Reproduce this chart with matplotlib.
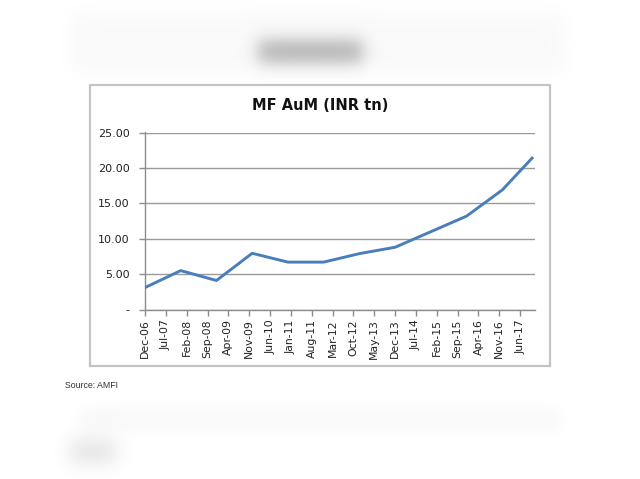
import matplotlib
matplotlib.use("Agg")
import matplotlib.pyplot as plt
import numpy as np
import pandas as pd
from matplotlib.patches import Rectangle

# MF AuM data (INR tn)
dates = ["Dec-06", "Dec-07", "Dec-08", "Dec-09", "Dec-10", "Dec-11",
         "Dec-12", "Dec-13", "Dec-14", "Dec-15", "Dec-16", "Oct-17"]
aum = [3.1, 5.5, 4.1, 7.95, 6.7, 6.7, 7.9, 8.8, 11.0, 13.2, 16.9, 21.4]

tick_labels = ["Dec-06", "Jul-07", "Feb-08", "Sep-08", "Apr-09", "Nov-09",
               "Jun-10", "Jan-11", "Aug-11", "Mar-12", "Oct-12", "May-13",
               "Dec-13", "Jul-14", "Feb-15", "Sep-15", "Apr-16", "Nov-16",
               "Jun-17"]
y_ticks = [0, 5, 10, 15, 20, 25]
y_tick_labels = ["-", "5.00", "10.00", "15.00", "20.00", "25.00"]


def month_index(labels):
    d = pd.to_datetime(labels, format="%b-%y")
    return np.array((d.year - 2006) * 12 + d.month - 12)


x = month_index(dates)
xt = month_index(tick_labels)

fig = plt.figure(figsize=(6.4, 4.79), dpi=100)

# blurred header / footer blocks behind the chart
H, W = 479, 640
X, Y = np.meshgrid(np.arange(W), np.arange(H))


def soft_box(x0, x1, y0, y1, s):
    sig = lambda v: 1 / (1 + np.exp(-v / s))
    return sig(X - x0) * sig(x1 - X) * sig(Y - y0) * sig(y1 - Y)


img = np.ones((H, W))
img -= 0.025 * soft_box(70, 565, 12, 72, 6)
img -= 0.28 * soft_box(258, 362, 40, 62, 5)
img -= 0.035 * soft_box(80, 560, 410, 428, 5)
img -= 0.12 * soft_box(70, 115, 440, 462, 6)
fig.figimage(img, cmap="gray", vmin=0, vmax=1, origin="upper", zorder=0)

# chart box
fig.patches.append(Rectangle((90 / 640, 1 - 366 / 479), 460 / 640, 281 / 479,
                             transform=fig.transFigure, facecolor="white",
                             edgecolor="#c4c4c4", lw=1.6, zorder=1))

ax = fig.add_axes([145 / 640, 1 - 309.5 / 479, 390 / 640, 177 / 479])
ax.set_zorder(2)
ax.patch.set_alpha(0)

ax.plot(x, aum, color="#4a7ebb", lw=2.1, solid_joinstyle="round", zorder=3)

ax.set_xlim(0, 131)
ax.set_ylim(0, 25.03)
ax.set_yticks(y_ticks)
ax.set_yticklabels(y_tick_labels, fontsize=8, color="#222222")
ax.set_xticks(xt)
ax.set_xticklabels(tick_labels, rotation=90, fontsize=7.8, color="#222222")
ax.grid(axis="y", color="#9a9a9a", lw=1.0)
ax.set_axisbelow(True)

for s in ["top", "right"]:
    ax.spines[s].set_visible(False)
for s in ["left", "bottom"]:
    ax.spines[s].set_color("#8c8c8c")
    ax.spines[s].set_linewidth(1.0)
ax.tick_params(axis="both", color="#8c8c8c", length=4, width=1, pad=3)
ax.tick_params(axis="y", pad=7)

fig.text(320 / 640, 1 - 106 / 479, "MF AuM (INR tn)", ha="center", va="center",
         fontsize=10.5, fontweight="bold", color="#111111")

fig.text(65 / 640, 1 - 386 / 479, "Source: AMFI", ha="left", va="center",
         fontsize=6.3, color="#333333", family=["Liberation Sans Narrow", "Liberation Sans"])

fig.savefig("out.png", dpi=100, facecolor="white")
